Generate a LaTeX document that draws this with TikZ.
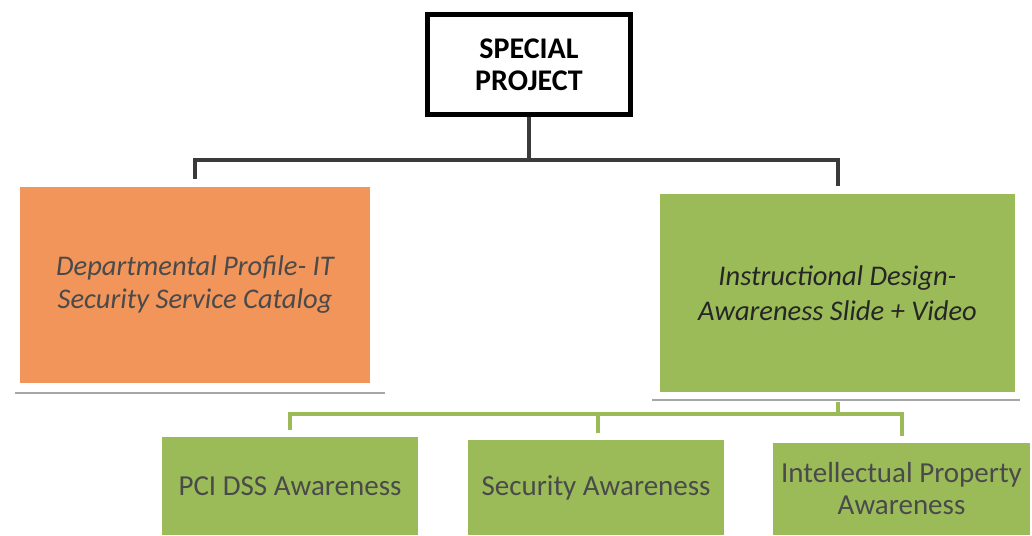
\documentclass[tikz,border=0pt]{standalone}
\usepackage{fontspec}
\setmainfont{Carlito}
\usepackage{tikz}
\definecolor{porange}{HTML}{F2955A}
\definecolor{pgreen}{HTML}{9BBB59}
\definecolor{dgray}{HTML}{3A3A3A}
\definecolor{tgray}{HTML}{4A4A4A}

\begin{document}
\begin{tikzpicture}[x=1pt,y=-1pt,inner sep=0pt,
                    box/.style={rectangle,align=center,draw=none},
                    shade line/.style={draw=gray!70,line width=2.5pt},
                    link/.style={draw=dgray,line width=4pt,shorten >=8pt},
                    sublink/.style={draw=pgreen,line width=4pt,shorten >=7pt}]
  \useasboundingbox (0,0) rectangle (1032,535);

  \node[box, draw=black, line width=5pt, minimum width=203pt, minimum height=100pt,
        font=\fontsize{30}{32}\selectfont\bfseries] (top) at (529,64.5) {SPECIAL\\PROJECT};
  \node[box, fill=porange, text=tgray, minimum width=350pt, minimum height=196pt,
        font=\fontsize{28.5}{33}\selectfont\itshape] (profile) at (195,285)
        {Departmental Profile- IT\\Security Service Catalog};
  \node[box, fill=pgreen, text=black!85, minimum width=355pt, minimum height=198pt,
        font=\fontsize{28.5}{35}\selectfont\itshape] (design) at (837.5,293)
        {Instructional Design-\\Awareness Slide + Video};
  \node[box, fill=pgreen, text=tgray, minimum width=256pt, minimum height=98pt,
        font=\fontsize{29}{32}\selectfont] (pci) at (290,486) {PCI DSS Awareness};
  \node[box, fill=pgreen, text=tgray, minimum width=256pt, minimum height=95pt,
        font=\fontsize{29}{32}\selectfont] (sec) at (596,487.5) {Security Awareness};
  \node[box, fill=pgreen, text=tgray, minimum width=257pt, minimum height=92pt,
        font=\fontsize{29}{32}\selectfont] (ip) at (901.5,489)
        {Intellectual Property\\Awareness};

  % shadows under the two big boxes
  \draw[shade line] ([xshift=-5pt,yshift=-10pt]profile.south west) -- ([xshift=15pt,yshift=-10pt]profile.south east);
  \draw[shade line] ([xshift=-8pt,yshift=-8pt]design.south west) -- ([xshift=5pt,yshift=-8pt]design.south east);

  \coordinate (fork) at (529,160);
  \coordinate (subfork) at (837.5,414);

  \draw[link, shorten >=0pt] (top.south) -- (fork);
  \draw[link] (fork) -| (profile.north);
  \draw[link] (fork) -| (design.north);

  \draw[sublink, shorten >=0pt] ([yshift=-10pt]design.south) -- (subfork);
  \draw[sublink] (subfork) -| (pci.north);
  \draw[sublink] (subfork) -| ([xshift=2pt]sec.north);
  \draw[sublink] (subfork) -| (ip.north);
\end{tikzpicture}
\end{document}
